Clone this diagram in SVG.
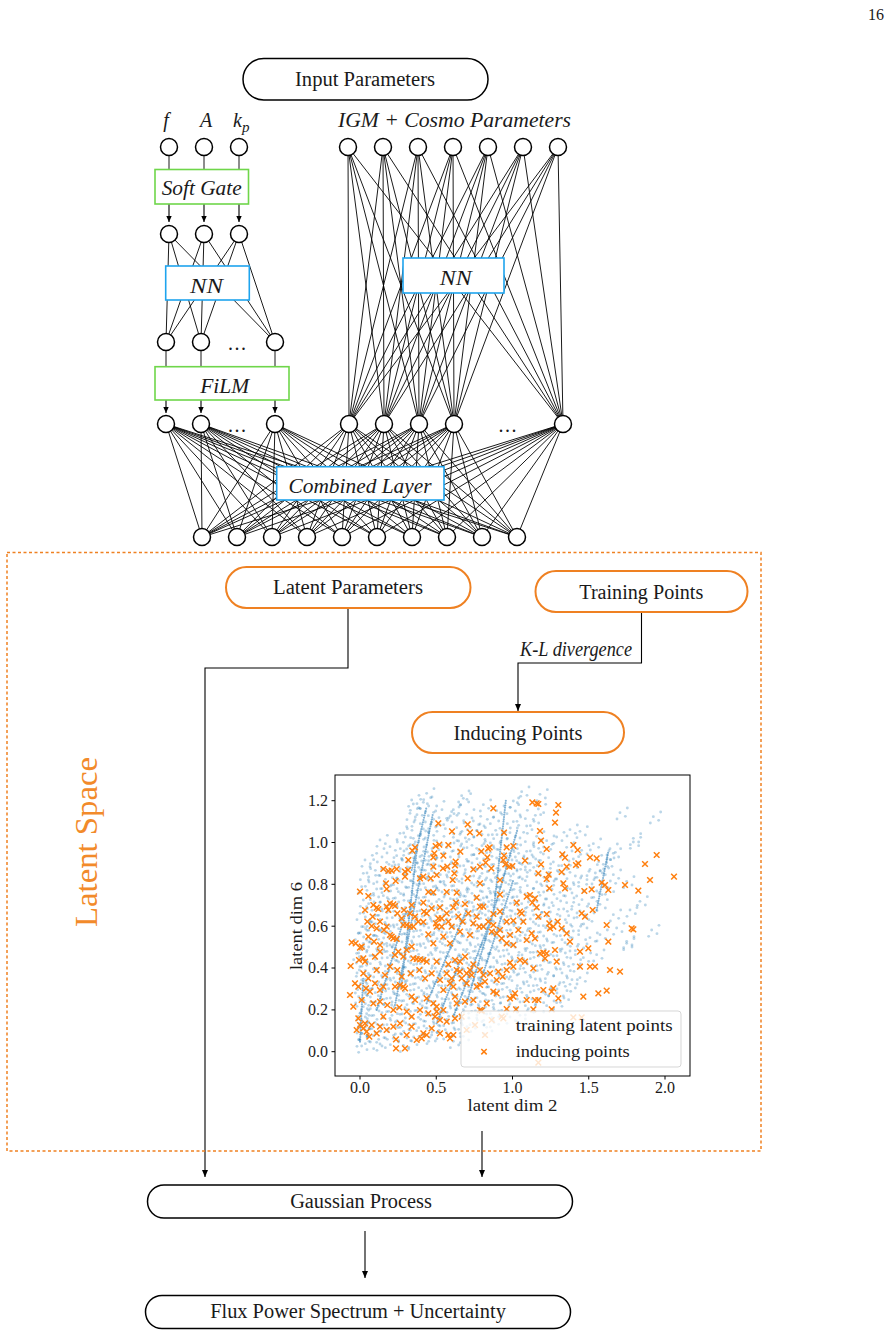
<svg xmlns="http://www.w3.org/2000/svg" width="895" height="1336" viewBox="0 0 895 1336">
<style>
.t{font-family:"Liberation Serif","Times New Roman",serif;font-size:20px;fill:#1a1a1a}
.it{font-style:italic}
.pt{font-family:"Liberation Serif","Times New Roman",serif;font-size:16px;fill:#1a1a1a}
.nd{fill:#fff;stroke:#000;stroke-width:1.5}
.pill{fill:#fff;stroke:#000;stroke-width:1.5}
.opill{fill:#fff;stroke:#ef8122;stroke-width:2}
.gbox{fill:#fff;stroke:#6fd64a;stroke-width:1.6}
.bbox{fill:#fff;stroke:#1ea4ee;stroke-width:1.6}
.e{fill:none;stroke:#000;stroke-width:0.9}
.sa{fill:none;stroke:#000;stroke-width:1.1;marker-end:url(#sa)}
.la{fill:none;stroke:#000;stroke-width:1.1;marker-end:url(#ah)}
</style>
<defs>
<marker id="ah" markerUnits="userSpaceOnUse" markerWidth="8" markerHeight="8" viewBox="0 0 8 8" refX="7" refY="4" orient="auto"><path d="M0 1L7 4L0 7z" fill="#000"/></marker>
<marker id="sa" markerUnits="userSpaceOnUse" markerWidth="7" markerHeight="7" viewBox="0 0 7 7" refX="6" refY="3.5" orient="auto"><path d="M0 0.8L6 3.5L0 6.2z" fill="#000"/></marker>
<marker id="bd" markerUnits="userSpaceOnUse" markerWidth="12" markerHeight="12" viewBox="-6 -6 12 12" refX="0" refY="0" overflow="visible"><circle r="4.3" fill="#1f77b4" fill-opacity="0.3"/></marker>
<marker id="ox" markerUnits="userSpaceOnUse" markerWidth="22" markerHeight="22" viewBox="-11 -11 22 22" refX="0" refY="0" overflow="visible"><path d="M-8.5 -8.5L8.5 8.5M-8.5 8.5L8.5 -8.5" stroke="#ff7f0e" stroke-width="4.5" fill="none"/></marker>
<clipPath id="axclip"><rect x="165" y="15" width="1065" height="903"/></clipPath>
</defs>
<rect width="895" height="1336" fill="#fff"/>
<text class="pt" x="876" y="20" text-anchor="middle">16</text>

<g id="connectors">
<path class="e" d="M169 155.5V169.5M204 155.5V169.5M239 155.5V169.5"/>
<line class="sa" x1="169" y1="204" x2="169" y2="222"/>
<line class="sa" x1="204" y1="204" x2="204" y2="222"/>
<line class="sa" x1="239" y1="204" x2="239" y2="222"/>
<path class="e" d="M169 234L166 342M169 234L201 342M169 234L275 342M204 234L166 342M204 234L201 342M204 234L275 342M239 234L166 342M239 234L201 342M239 234L275 342"/>
<path class="e" d="M166 350.5V366.7M201 350.5V366.7M275 350.5V366.7"/>
<line class="sa" x1="166" y1="400" x2="166" y2="413"/>
<line class="sa" x1="201" y1="400" x2="201" y2="413"/>
<line class="sa" x1="275" y1="400" x2="275" y2="413"/>
<path class="e" d="M348 147L349 424M348 147L384 424M348 147L419 424M348 147L454 424M348 147L563 424M383 147L349 424M383 147L384 424M383 147L419 424M383 147L454 424M383 147L563 424M418 147L349 424M418 147L384 424M418 147L419 424M418 147L454 424M418 147L563 424M453 147L349 424M453 147L384 424M453 147L419 424M453 147L454 424M453 147L563 424M488 147L349 424M488 147L384 424M488 147L419 424M488 147L454 424M488 147L563 424M523 147L349 424M523 147L384 424M523 147L419 424M523 147L454 424M523 147L563 424M558 147L349 424M558 147L384 424M558 147L419 424M558 147L454 424M558 147L563 424"/>
<path class="e" d="M166 424L202 537M166 424L237 537M166 424L272 537M166 424L307 537M166 424L342 537M166 424L377 537M166 424L412 537M166 424L447 537M166 424L482 537M166 424L517 537M201 424L202 537M201 424L237 537M201 424L272 537M201 424L307 537M201 424L342 537M201 424L377 537M201 424L412 537M201 424L447 537M201 424L482 537M201 424L517 537M275 424L202 537M275 424L237 537M275 424L272 537M275 424L307 537M275 424L342 537M275 424L377 537M275 424L412 537M275 424L447 537M275 424L482 537M275 424L517 537M349 424L202 537M349 424L237 537M349 424L272 537M349 424L307 537M349 424L342 537M349 424L377 537M349 424L412 537M349 424L447 537M349 424L482 537M349 424L517 537M384 424L202 537M384 424L237 537M384 424L272 537M384 424L307 537M384 424L342 537M384 424L377 537M384 424L412 537M384 424L447 537M384 424L482 537M384 424L517 537M419 424L202 537M419 424L237 537M419 424L272 537M419 424L307 537M419 424L342 537M419 424L377 537M419 424L412 537M419 424L447 537M419 424L482 537M419 424L517 537M454 424L202 537M454 424L237 537M454 424L272 537M454 424L307 537M454 424L342 537M454 424L377 537M454 424L412 537M454 424L447 537M454 424L482 537M454 424L517 537M563 424L202 537M563 424L237 537M563 424L272 537M563 424L307 537M563 424L342 537M563 424L377 537M563 424L412 537M563 424L447 537M563 424L482 537M563 424L517 537"/>
<path class="la" d="M348 608.5V668H205V1177"/>
<path class="la" d="M641.5 612.5V663H518V711"/>
<line class="la" x1="482" y1="1131" x2="482" y2="1177"/>
<line class="la" x1="365" y1="1231" x2="365" y2="1278"/>
</g>

<g id="latent-space-frame">
<rect x="7" y="552.5" width="754" height="598.5" fill="none" stroke="#ef8122" stroke-width="1.5" stroke-dasharray="3 2.5"/>
<text x="0" y="0" transform="translate(97 842) rotate(-90)" text-anchor="middle" font-family="Liberation Serif, serif" font-size="31" fill="#f28a2a" textLength="170" lengthAdjust="spacingAndGlyphs">Latent Space</text>
</g>

<g id="input-parameters"><rect class="pill" x="243" y="58.5" width="245" height="41.5" rx="20.75"/><text class="t" x="365" y="85.5" text-anchor="middle" textLength="140" lengthAdjust="spacingAndGlyphs">Input Parameters</text></g>

<g id="labels-left">
<text class="t it" x="166" y="127" text-anchor="middle">f</text>
<text class="t it" x="206" y="127" text-anchor="middle">A</text>
<text class="t it" x="233" y="127">k<tspan font-size="15" dy="5">p</tspan></text>
</g>
<g id="label-igm"><text class="t it" x="454.5" y="126.5" text-anchor="middle" textLength="233" lengthAdjust="spacingAndGlyphs">IGM + Cosmo Parameters</text></g>

<g id="n_in_f"><circle class="nd" cx="169" cy="147" r="8.5"/></g>
<g id="n_in_A"><circle class="nd" cx="204" cy="147" r="8.5"/></g>
<g id="n_in_kp"><circle class="nd" cx="239" cy="147" r="8.5"/></g>
<g id="n_igm1"><circle class="nd" cx="348" cy="147" r="8.5"/></g>
<g id="n_igm2"><circle class="nd" cx="383" cy="147" r="8.5"/></g>
<g id="n_igm3"><circle class="nd" cx="418" cy="147" r="8.5"/></g>
<g id="n_igm4"><circle class="nd" cx="453" cy="147" r="8.5"/></g>
<g id="n_igm5"><circle class="nd" cx="488" cy="147" r="8.5"/></g>
<g id="n_igm6"><circle class="nd" cx="523" cy="147" r="8.5"/></g>
<g id="n_igm7"><circle class="nd" cx="558" cy="147" r="8.5"/></g>

<g id="soft-gate"><rect class="gbox" x="155" y="169.5" width="93.5" height="34.5"/><text class="t it" x="201.7" y="195" text-anchor="middle" textLength="80" lengthAdjust="spacingAndGlyphs">Soft Gate</text></g>

<g id="n_g1"><circle class="nd" cx="169" cy="234" r="8.5"/></g>
<g id="n_g2"><circle class="nd" cx="204" cy="234" r="8.5"/></g>
<g id="n_g3"><circle class="nd" cx="239" cy="234" r="8.5"/></g>

<g id="nn-left"><rect class="bbox" x="165.7" y="266" width="83.6" height="34"/><text class="t it" x="206.5" y="293" font-size="23" text-anchor="middle" textLength="33" lengthAdjust="spacingAndGlyphs">NN</text></g>
<g id="nn-right"><rect class="bbox" x="403" y="258" width="101" height="35"/><text class="t it" x="455.8" y="285" font-size="23" text-anchor="middle" textLength="32" lengthAdjust="spacingAndGlyphs">NN</text></g>

<g id="n_h1"><circle class="nd" cx="166" cy="342" r="8.5"/></g>
<g id="n_h2"><circle class="nd" cx="201" cy="342" r="8.5"/></g>
<g id="n_h3"><circle class="nd" cx="275" cy="342" r="8.5"/></g>
<text class="t" x="237" y="350" text-anchor="middle" textLength="18">...</text>

<g id="film"><rect class="gbox" x="155" y="366.7" width="134" height="33.3"/><text class="t it" x="224.7" y="393.3" text-anchor="middle" textLength="49" lengthAdjust="spacingAndGlyphs">FiLM</text></g>

<g id="n_l4_1"><circle class="nd" cx="166" cy="424" r="8.5"/></g>
<g id="n_l4_2"><circle class="nd" cx="201" cy="424" r="8.5"/></g>
<g id="n_l4_3"><circle class="nd" cx="275" cy="424" r="8.5"/></g>
<g id="n_l4_4"><circle class="nd" cx="349" cy="424" r="8.5"/></g>
<g id="n_l4_5"><circle class="nd" cx="384" cy="424" r="8.5"/></g>
<g id="n_l4_6"><circle class="nd" cx="419" cy="424" r="8.5"/></g>
<g id="n_l4_7"><circle class="nd" cx="454" cy="424" r="8.5"/></g>
<g id="n_l4_8"><circle class="nd" cx="563" cy="424" r="8.5"/></g>
<text class="t" x="237" y="432" text-anchor="middle" textLength="18">...</text>
<text class="t" x="507.5" y="432" text-anchor="middle" textLength="18">...</text>

<g id="combined-layer"><rect class="bbox" x="276.7" y="466.7" width="167.3" height="33.3"/><text class="t it" x="360" y="492.7" text-anchor="middle" textLength="143" lengthAdjust="spacingAndGlyphs">Combined Layer</text></g>

<g id="n_o1"><circle class="nd" cx="202" cy="537" r="8.5"/></g>
<g id="n_o2"><circle class="nd" cx="237" cy="537" r="8.5"/></g>
<g id="n_o3"><circle class="nd" cx="272" cy="537" r="8.5"/></g>
<g id="n_o4"><circle class="nd" cx="307" cy="537" r="8.5"/></g>
<g id="n_o5"><circle class="nd" cx="342" cy="537" r="8.5"/></g>
<g id="n_o6"><circle class="nd" cx="377" cy="537" r="8.5"/></g>
<g id="n_o7"><circle class="nd" cx="412" cy="537" r="8.5"/></g>
<g id="n_o8"><circle class="nd" cx="447" cy="537" r="8.5"/></g>
<g id="n_o9"><circle class="nd" cx="482" cy="537" r="8.5"/></g>
<g id="n_o10"><circle class="nd" cx="517" cy="537" r="8.5"/></g>

<g id="latent-parameters"><rect class="opill" x="226" y="567" width="244.5" height="41" rx="20.5"/><text class="t" x="348" y="594" text-anchor="middle" textLength="150" lengthAdjust="spacingAndGlyphs">Latent Parameters</text></g>
<g id="training-points"><rect class="opill" x="535.5" y="571" width="212" height="41" rx="20.5"/><text class="t" x="641.3" y="598.5" text-anchor="middle" textLength="124" lengthAdjust="spacingAndGlyphs">Training Points</text></g>
<text class="t it" x="576" y="656" text-anchor="middle" textLength="112" lengthAdjust="spacingAndGlyphs">K-L divergence</text>
<g id="inducing-points"><rect class="opill" x="412" y="712" width="212" height="41" rx="20.5"/><text class="t" x="518" y="739.5" text-anchor="middle" textLength="129" lengthAdjust="spacingAndGlyphs">Inducing Points</text></g>

<g id="gaussian-process"><rect class="pill" x="147.5" y="1185" width="425" height="33" rx="16.5"/><text class="t" x="361" y="1208" text-anchor="middle" textLength="141.7" lengthAdjust="spacingAndGlyphs">Gaussian Process</text></g>
<g id="flux-power"><rect class="pill" x="145.5" y="1295.5" width="425" height="33" rx="16.5"/><text class="t" x="358" y="1318.3" text-anchor="middle" textLength="295.7" lengthAdjust="spacingAndGlyphs">Flux Power Spectrum + Uncertainty</text></g>

<g id="scatter-plot">
<rect x="335" y="775" width="355" height="301" fill="#fff"/>
<g transform="translate(280 770) scale(0.333333)">
<g clip-path="url(#axclip)">
<path d="M345 705L458 135M365 640L412 225M440 700L560 420M520 740L640 430L678 88M560 700L712 180M600 640L700 330M240 815L250 620M290 720L380 420M950 420L985 245M395 300L440 110M470 760L545 560" fill="none" stroke="#1f77b4" stroke-opacity="0.55" stroke-width="6.5" stroke-linecap="round" stroke-dasharray="0 7"/>
<polyline id="bluepts" fill="none" stroke="none" marker-start="url(#bd)" marker-mid="url(#bd)" marker-end="url(#bd)" points="440,70 545,77 725,65 780,73 395,90 430,97 550,85 700,93 400,102 420,115 470,108 520,119 610,104 690,112 775,117 390,130 445,137 515,125 560,133 650,122 720,135 1020,128 405,150 455,157 500,145 580,153 640,142 700,155 760,148 380,170 430,177 480,165 530,173 600,162 660,175 740,168 870,179 360,190 415,197 445,185 540,193 590,182 625,195 690,188 770,199 900,184 300,210 370,217 400,205 470,213 520,202 560,215 615,208 660,219 720,204 800,212 830,201 1060,216 330,230 380,237 440,225 500,233 545,222 590,235 640,228 700,239 760,224 860,232 940,221 990,236 290,250 350,257 410,245 455,253 520,242 575,255 620,248 680,259 740,244 790,252 905,241 965,256 255,270 320,277 365,265 425,273 470,262 515,275 560,268 600,279 650,264 710,272 760,261 820,276 880,267 980,278 270,290 305,297 345,285 390,293 445,282 490,295 540,288 590,299 635,284 695,292 745,281 790,296 845,287 930,298 970,283 250,310 300,317 360,305 400,313 455,302 500,315 555,308 600,319 655,304 700,312 750,301 810,316 870,307 905,318 960,303 1000,314 265,330 315,337 350,325 395,333 440,322 480,335 530,328 575,339 620,324 670,332 720,321 770,336 830,327 880,338 945,323 1040,334 245,350 290,357 335,345 380,353 420,342 470,355 515,348 560,359 610,344 655,352 705,341 760,356 800,347 860,358 920,343 985,354 280,370 310,377 355,365 400,373 445,362 495,375 540,368 585,379 630,364 680,372 720,361 780,376 840,367 890,378 950,363 250,390 300,397 340,385 385,393 430,382 470,395 520,388 565,399 610,384 650,392 700,381 745,396 800,387 860,398 935,383 1080,394 260,410 305,417 350,405 395,413 455,402 500,415 545,408 590,419 635,404 680,412 725,401 770,416 820,407 875,418 960,403 240,430 285,437 330,425 370,433 420,422 465,435 510,428 555,439 600,424 645,432 690,421 735,436 785,427 840,438 900,423 1000,434 270,450 315,457 360,445 405,453 450,442 495,455 540,448 580,459 625,444 670,452 715,441 760,456 810,447 860,458 920,443 250,470 295,477 340,465 385,473 430,462 470,475 520,468 560,479 605,464 650,472 700,461 745,476 790,467 850,478 905,463 1010,474 235,490 280,497 320,485 365,493 410,482 455,495 500,488 545,499 590,484 635,492 680,481 720,496 775,487 830,498 880,483 960,494 260,510 305,517 350,505 395,513 440,502 480,515 525,508 570,519 615,504 660,512 705,501 750,516 800,507 855,518 930,503 1040,514 245,530 290,537 330,525 375,533 420,522 465,535 510,528 550,539 595,524 640,532 690,521 735,536 780,527 840,538 895,523 230,550 270,557 315,545 360,553 400,542 445,555 490,548 535,559 580,544 625,552 670,541 715,556 760,547 820,558 870,543 950,554 255,570 300,577 340,565 385,573 430,562 475,575 515,568 560,579 605,564 650,572 695,561 740,576 790,567 850,578 910,563 240,590 280,597 325,585 370,593 410,582 455,595 500,588 545,599 585,584 630,592 675,581 720,596 770,587 830,598 880,583 265,610 305,617 350,605 390,613 435,602 480,615 525,608 565,619 610,604 655,612 700,601 750,616 805,607 860,618 245,630 285,637 330,625 375,633 415,622 460,635 505,628 550,639 595,624 635,632 680,621 730,636 780,627 840,638 900,623 235,650 270,657 310,645 355,653 400,642 440,655 485,648 530,659 575,644 620,652 665,641 710,656 760,647 815,658 870,643 255,670 295,677 340,665 380,673 425,662 470,675 515,668 555,679 600,664 645,672 690,661 740,676 790,667 850,678 240,690 280,697 320,685 365,693 410,682 450,695 495,688 540,699 585,684 625,692 670,681 720,696 775,687 830,698 250,710 290,717 335,705 375,713 420,702 465,715 510,708 550,719 595,704 640,712 690,701 745,716 800,707 240,730 275,737 320,725 360,733 405,722 445,735 490,728 530,739 575,724 620,732 665,721 720,736 245,750 285,757 330,745 370,753 415,742 460,755 500,748 545,759 590,744 640,752 690,741 240,770 270,777 310,765 355,773 400,762 440,775 480,768 525,779 570,764 620,772 245,790 280,797 325,785 365,793 410,782 455,795 500,788 550,799 240,810 290,817 340,805 395,813 450,802 520,814 245,828 300,822 370,826 238,600 242,640 236,680 244,720 240,760 246,790 238,560 250,520 245,470 1060,205 1040,520 1115,480 1120,140 1000,250 1050,420 300,480 320,520 420,260 430,300 460,350 540,380 580,420 620,380 660,300 690,250 720,280"/>
<use href="#bluepts" transform="translate(16 11)"/>
<use href="#bluepts" transform="translate(-9 19)"/>
<use href="#bluepts" transform="translate(22 -14)"/>
</g>
<polyline fill="none" stroke="none" marker-start="url(#ox)" marker-mid="url(#ox)" marker-end="url(#ox)" points="770,100 757,97 775,102 835,105 828,128 825,158 640,115 475,160 563,163 672,188 570,187 598,190 516,184 780,183 783,212 800,237 880,225 893,240 847,253 855,263 735,272 783,283 405,232 397,242 467,228 478,224 490,257 505,225 541,245 604,244 624,236 629,232 680,232 672,257 700,228 697,288 688,290 385,270 460,262 463,250 384,300 375,305 310,297 350,297 335,302 325,303 347,333 375,320 420,325 430,320 452,325 460,290 489,295 502,290 525,286 527,275 580,298 600,290 617,278 622,262 634,295 670,270 676,283 660,330 600,340 563,325 523,310 518,330 470,315 775,310 806,314 800,327 845,306 860,290 888,285 895,280 930,262 950,265 965,338 975,345 985,360 913,363 935,358 1095,282 1130,255 1110,330 1182,320 1075,362 1035,345 240,365 265,378 320,357 318,340 445,366 460,367 500,366 530,368 528,398 590,383 660,374 750,375 765,385 740,380 757,398 770,412 710,398 808,355 855,355 850,340 280,405 290,413 295,417 325,420 320,410 330,400 340,403 345,408 430,398 432,425 390,430 395,405 430,456 480,412 485,445 475,445 520,412 555,402 600,410 610,410 640,432 660,425 680,455 700,452 720,425 725,430 775,440 800,432 833,455 808,460 905,430 915,440 938,420 215,517 227,520 240,533 245,530 275,468 290,475 300,525 330,495 335,500 340,505 350,507 370,465 380,465 390,470 400,470 445,493 470,470 485,470 490,500 460,520 510,520 540,485 570,495 580,460 610,470 640,465 650,490 665,505 680,520 700,525 740,510 755,490 765,505 810,475 820,470 845,475 860,490 870,515 900,545 925,535 980,465 985,515 1055,475 1060,478 212,588 237,570 250,565 255,575 285,560 300,545 345,555 355,545 370,560 380,540 395,530 400,565 410,567 420,568 430,570 440,575 470,575 505,583 525,570 540,575 580,583 555,560 560,610 570,600 540,605 610,615 630,610 655,605 680,600 690,578 700,590 720,570 735,575 760,595 780,550 790,548 800,550 795,565 825,540 830,575 900,590 930,590 945,590 990,600 1020,605 210,675 220,710 245,690 270,665 285,640 300,660 310,650 345,650 360,645 370,650 375,655 395,680 405,690 440,685 460,700 470,710 490,660 510,640 520,650 525,680 545,625 560,640 575,615 590,650 600,645 640,665 650,670 690,685 700,680 705,670 740,690 765,690 775,690 790,660 815,665 820,655 835,685 910,680 955,670 980,662 235,745 240,765 250,775 260,785 268,800 275,765 300,770 310,740 340,770 348,808 380,795 375,835 348,835 425,805 430,790 440,795 465,740 480,750 505,795 510,805 520,795 500,755 525,745 545,740 600,720 635,750 665,740 670,745 775,878 585,765 615,795 880,742 905,742 605,722 680,717 708,718 760,718 815,718 255,420 262,455 278,440 300,455 312,480 265,500 282,515 320,470 352,430 365,445 372,420 405,440 415,455 440,430 455,415 468,460 500,430 505,455 515,470 535,440 548,455 565,430 590,440 598,470 625,455 635,485 660,480 690,495 715,480 730,455 250,610 265,625 290,600 315,615 330,590 352,600 365,620 392,610 418,600 435,625 455,610 480,630 500,610 515,625 530,600 600,600 615,635 650,630 668,620 225,640 235,650 258,655 280,700 300,695 322,705 340,720 358,712 380,725 395,740 420,720 445,730 470,725 490,720 530,700 555,695 580,690 620,700 230,780 255,760 290,790 320,780 360,760 395,770 410,810 455,775 480,790 560,780"/>
</g>
<g id="legend">
<rect x="461" y="1011" width="220" height="56" rx="3" fill="#fff" fill-opacity="0.8" stroke="#ccc" stroke-opacity="0.8"/>
<circle cx="484" cy="1025" r="1.4" fill="#1f77b4" fill-opacity="0.3"/>
<path d="M481.3 1049l5.4 5.4m0 -5.4l-5.4 5.4" stroke="#ff7f0e" stroke-width="1.5" fill="none"/>
<text class="pt" x="515.7" y="1030.5" font-size="17" textLength="157" lengthAdjust="spacingAndGlyphs">training latent points</text>
<text class="pt" x="515.7" y="1057" font-size="17" textLength="114" lengthAdjust="spacingAndGlyphs">inducing points</text>
</g>
<rect x="335" y="775" width="355" height="301" fill="none" stroke="#000" stroke-width="1"/>
<path d="M360 1076v3.5M436.25 1076v3.5M512.5 1076v3.5M588.75 1076v3.5M665 1076v3.5M335 1051.7h-3.5M335 1009.9h-3.5M335 968h-3.5M335 926.2h-3.5M335 884.3h-3.5M335 842.5h-3.5M335 800.7h-3.5" stroke="#000" stroke-width="1" fill="none"/>
<g class="pt" text-anchor="middle">
<text x="360" y="1093">0.0</text><text x="436.25" y="1093">0.5</text><text x="512.5" y="1093">1.0</text><text x="588.75" y="1093">1.5</text><text x="665" y="1093">2.0</text>
</g>
<g class="pt" text-anchor="end">
<text x="328" y="1057">0.0</text><text x="328" y="1015.2">0.2</text><text x="328" y="973.3">0.4</text><text x="328" y="931.5">0.6</text><text x="328" y="889.6">0.8</text><text x="328" y="847.8">1.0</text><text x="328" y="806">1.2</text>
</g>
<text class="pt" x="512.5" y="1111" font-size="17" text-anchor="middle" textLength="90" lengthAdjust="spacingAndGlyphs">latent dim 2</text>
<text class="pt" x="0" y="0" font-size="17" text-anchor="middle" textLength="88" lengthAdjust="spacingAndGlyphs" transform="translate(301.5 926) rotate(-90)">latent dim 6</text>
</g>
</svg>
